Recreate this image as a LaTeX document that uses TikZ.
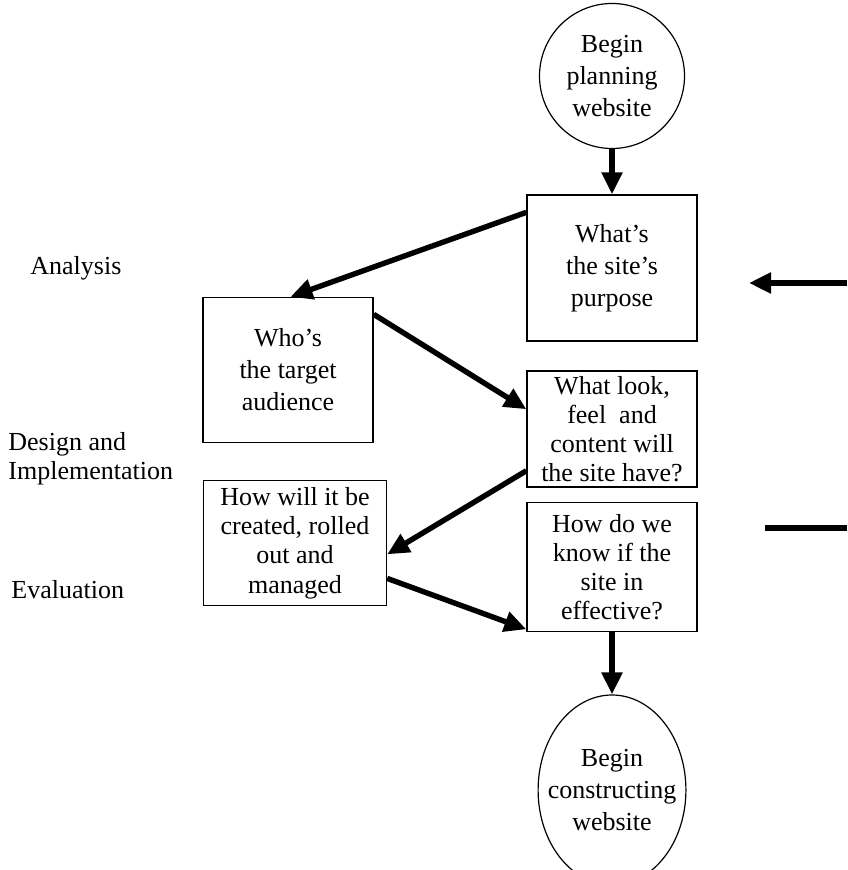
\documentclass[tikz,border=0pt]{standalone}
\usepackage{fontspec}
\setmainfont{Liberation Serif}
\usetikzlibrary{arrows.meta,shapes.geometric}

\begin{document}
\begin{tikzpicture}[x=0.5pt,y=-0.5pt,
    every node/.style={font=\fontsize{13}{16}\selectfont},
    dense/.style={font=\fontsize{13}{14.6}\selectfont},
    stagebox/.style={draw, line width=0.7pt, align=center, inner sep=0pt, minimum width=85pt},
    endcircle/.style={ellipse, draw, line width=0.6pt, align=center, inner sep=0pt},
    flow/.style={line width=2.7pt, -{Triangle[length=11pt,width=10pt]}},
    phase/.style={anchor=west, align=left, inner sep=0pt}]
            \useasboundingbox (0,0) rectangle (847,870);

            % phases
            \node[phase] (analysis) at (30,268) {Analysis};
            \node[phase, dense] (design) at (8,459) {Design and\\Implementation};
            \node[phase] (evaluation) at (11,590) {Evaluation};

            % stages
            \node[endcircle, minimum width=72.5pt, minimum height=72.5pt] (start) at (612,76) {Begin\\planning\\website};
            \node[stagebox, minimum height=73pt] (purpose) at (612,268) {What’s\\the site’s\\purpose};
            \node[stagebox, minimum height=72.5pt] (audience) at (288,370) {Who’s\\the target\\audience};
            \node[stagebox, dense, minimum height=58pt] (look) at (612,429) {What look,\\feel\ \ and\\content will\\the site have?};
            \node[stagebox, dense, minimum width=91.5pt, minimum height=62.5pt] (create) at (295,543) {How will it be\\created, rolled\\out and\\managed};
            \node[stagebox, dense, minimum height=64.5pt] (effect) at (612,567) {How do we\\know if the\\site in\\effective?};
            \node[endcircle, inner sep=-6pt, minimum width=71.5pt, minimum height=95pt] (finish) at (612,790) {Begin\\constructing\\website};

            % loose ends on the right
            \coordinate (backR) at (847,283);
            \coordinate (backL) at (749,283);
            \coordinate (loopL) at (765,528);
            \coordinate (loopR) at (847,528);

            \draw[flow] (start) -- (purpose);
            \draw[flow] (purpose.147) -- (audience.88);
            \draw[flow] (audience.33) -- (look.167);
            \draw[flow] (look.206) -- (create.353);
            \draw[flow] (create.339) -- (effect.216);
            \draw[flow] (effect) -- (finish);
            \draw[flow] (backR) -- (backL);
            \draw[line width=2.7pt] (loopL) -- (loopR);
        \end{tikzpicture}
\end{document}
